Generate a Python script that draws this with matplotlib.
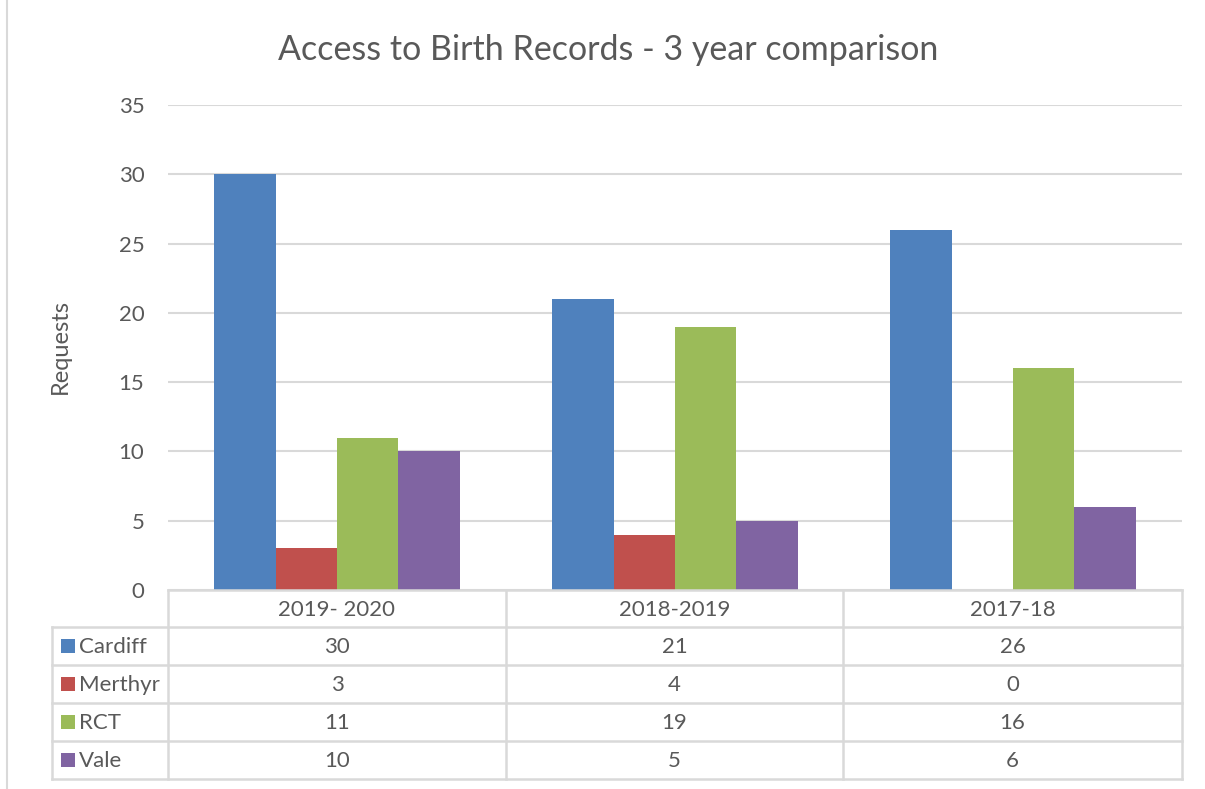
import matplotlib.pyplot as plt
from matplotlib.lines import Line2D
from matplotlib.patches import Rectangle
import numpy as np

plt.rcParams['font.family'] = ['Lato', 'DejaVu Sans']

periodos = ['2019- 2020', '2018-2019', '2017-18']
series = ['Cardiff', 'Merthyr', 'RCT', 'Vale']
cardiff = [30, 21, 26]
merthyr = [3, 4, 0]
rct = [11, 19, 16]
vale = [10, 5, 6]
colores = ['#4F81BD', '#C0504D', '#9BBB59', '#8064A2']

W, H = 1205, 789
GRIS = '#595959'
LINEA = '#D9D9D9'
FS = 16


def fx(px):
    return px / W


def fy(py):
    return 1 - py / H


fig = plt.figure(figsize=(W / 100, H / 100), dpi=100)

# marco exterior del grafico
fig.add_artist(Rectangle((fx(7), fy(900)), fx(1300), 900 / H + 1, fill=False,
                         edgecolor=LINEA, linewidth=1.5, transform=fig.transFigure))

x0, x1, ytop, ybot = 168, 1182, 105, 590
ax = fig.add_axes([fx(x0), fy(ybot), fx(x1 - x0), (ybot - ytop) / H])

valores = [cardiff, merthyr, rct, vale]
n = len(series)
ancho = 1 / (n + 1.5)
pos = np.arange(len(periodos))
for i, (nombre, vals) in enumerate(zip(series, valores)):
    ax.bar(pos + (i - (n - 1) / 2) * ancho, vals, width=ancho,
           color=colores[i], label=nombre, zorder=3)

ax.set_xlim(-0.5, len(periodos) - 0.5)
ax.set_ylim(0, 35)
ax.set_yticks(range(0, 36, 5))
ax.yaxis.grid(True, color=LINEA, linewidth=1.5, zorder=0)
ax.set_xticks([])
for s in ax.spines.values():
    s.set_visible(False)
ax.tick_params(axis='y', length=0, pad=17, labelsize=FS, labelcolor=GRIS)

fig.text(fx(60), fy(347), 'Requests', rotation=90, ha='center', va='center',
         fontsize=17, color=GRIS)
fig.text(fx(608), fy(50), 'Access to Birth Records - 3 year comparison',
         ha='center', va='center', fontsize=24.5, color=GRIS)

# tabla de datos
cols = [168, 506, 843, 1182]
filas = [590, 627, 665, 703, 741, 779]
izq = 52


def linea(xa, ya, xb, yb):
    fig.add_artist(Line2D([fx(xa), fx(xb)], [fy(ya), fy(yb)], color=LINEA,
                          linewidth=1.8, transform=fig.transFigure))


linea(cols[0], filas[0], cols[-1], filas[0])
for y in filas[1:]:
    linea(izq, y, cols[-1], y)
linea(izq, filas[1], izq, filas[-1])
for x in cols:
    linea(x, filas[0], x, filas[-1])

for j, p in enumerate(periodos):
    xc = (cols[j] + cols[j + 1]) / 2
    fig.text(fx(xc), fy((filas[0] + filas[1]) / 2 + 1), p, ha='center',
             va='center', fontsize=FS, color=GRIS)

for i, (nombre, vals) in enumerate(zip(series, valores)):
    yc = (filas[i + 1] + filas[i + 2]) / 2
    fig.add_artist(Rectangle((fx(61), fy(yc + 7)), fx(14), 14 / H,
                             facecolor=colores[i], edgecolor='none',
                             transform=fig.transFigure))
    fig.text(fx(79), fy(yc + 1), nombre, ha='left', va='center', fontsize=FS,
             color=GRIS)
    for j, v in enumerate(vals):
        xc = (cols[j] + cols[j + 1]) / 2
        fig.text(fx(xc), fy(yc + 1), str(v), ha='center', va='center',
                 fontsize=FS, color=GRIS)

fig.savefig('out.png', dpi=100, facecolor='white')
